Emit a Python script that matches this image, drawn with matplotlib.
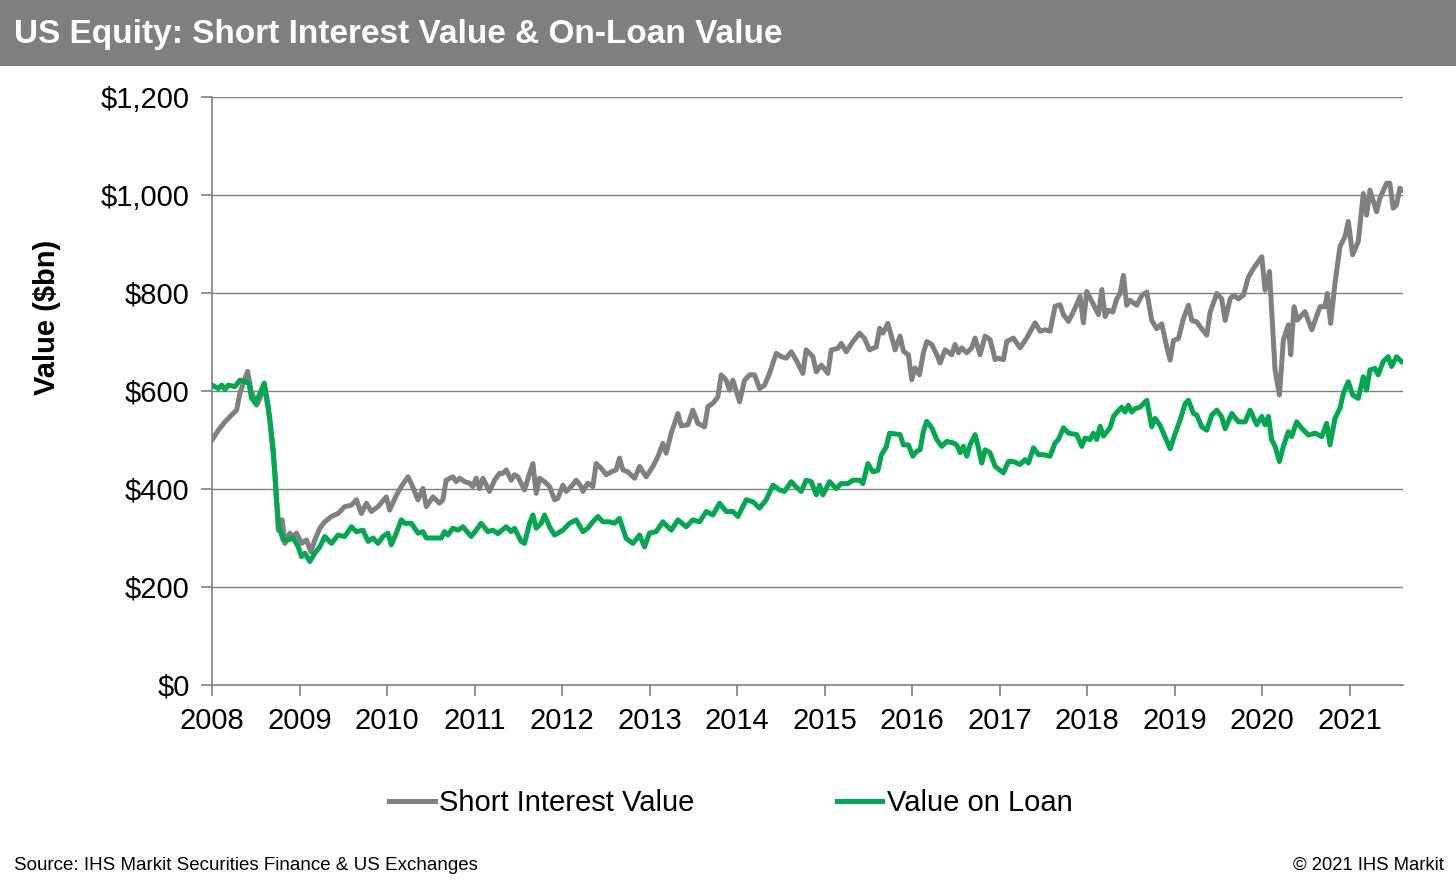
import matplotlib.pyplot as plt
from matplotlib.patches import Rectangle
from matplotlib.ticker import FuncFormatter

# dates as decimal years, values in $bn
si_dates = [2008.000, 2008.072, 2008.148, 2008.224, 2008.281, 2008.319, 2008.357, 2008.407, 2008.445, 2008.510,
            2008.548, 2008.597, 2008.662, 2008.719, 2008.757, 2008.802, 2008.833, 2008.890, 2008.928, 2008.966,
            2009.023, 2009.080, 2009.129, 2009.175, 2009.232, 2009.289, 2009.365, 2009.441, 2009.517, 2009.593,
            2009.650, 2009.707, 2009.764, 2009.821, 2009.897, 2009.992, 2010.030, 2010.106, 2010.163, 2010.240,
            2010.278, 2010.354, 2010.411, 2010.449, 2010.525, 2010.600, 2010.638, 2010.676, 2010.752, 2010.790,
            2010.829, 2010.886, 2010.943, 2010.981, 2011.019, 2011.057, 2011.095, 2011.171, 2011.229, 2011.286,
            2011.324, 2011.362, 2011.419, 2011.457, 2011.495, 2011.571, 2011.629, 2011.667, 2011.705, 2011.743,
            2011.800, 2011.857, 2011.914, 2011.952, 2012.010, 2012.048, 2012.105, 2012.162, 2012.219, 2012.238,
            2012.295, 2012.352, 2012.390, 2012.448, 2012.505, 2012.562, 2012.619, 2012.657, 2012.695, 2012.752,
            2012.829, 2012.886, 2012.962, 2013.038, 2013.095, 2013.152, 2013.190, 2013.248, 2013.324, 2013.362,
            2013.438, 2013.495, 2013.552, 2013.629, 2013.667, 2013.724, 2013.781, 2013.819, 2013.876, 2013.914,
            2013.952, 2014.029, 2014.086, 2014.143, 2014.200, 2014.257, 2014.314, 2014.371, 2014.448, 2014.505,
            2014.562, 2014.619, 2014.676, 2014.752, 2014.790, 2014.867, 2014.905, 2014.962, 2015.038, 2015.076,
            2015.152, 2015.190, 2015.248, 2015.324, 2015.400, 2015.457, 2015.514, 2015.590, 2015.629, 2015.667,
            2015.724, 2015.806, 2015.863, 2015.901, 2015.958, 2015.996, 2016.034, 2016.084, 2016.130, 2016.168,
            2016.225, 2016.282, 2016.320, 2016.377, 2016.453, 2016.491, 2016.530, 2016.568, 2016.625, 2016.682,
            2016.720, 2016.777, 2016.834, 2016.891, 2016.949, 2016.987, 2017.044, 2017.082, 2017.158, 2017.234,
            2017.310, 2017.406, 2017.463, 2017.520, 2017.577, 2017.634, 2017.691, 2017.730, 2017.787, 2017.863,
            2017.920, 2017.958, 2017.996, 2018.053, 2018.130, 2018.168, 2018.206, 2018.244, 2018.293, 2018.339,
            2018.377, 2018.415, 2018.453, 2018.491, 2018.568, 2018.625, 2018.682, 2018.739, 2018.796, 2018.853,
            2018.910, 2018.949, 2018.987, 2019.044, 2019.101, 2019.158, 2019.196, 2019.253, 2019.310, 2019.368,
            2019.406, 2019.482, 2019.539, 2019.577, 2019.634, 2019.672, 2019.730, 2019.787, 2019.844, 2019.901,
            2019.996, 2020.034, 2020.084, 2020.148, 2020.198, 2020.243, 2020.300, 2020.327, 2020.365, 2020.403,
            2020.490, 2020.567, 2020.662, 2020.719, 2020.745, 2020.783, 2020.833, 2020.890, 2020.947, 2020.985,
            2021.034, 2021.099, 2021.156, 2021.194, 2021.232, 2021.308, 2021.346, 2021.422, 2021.460, 2021.498,
            2021.536, 2021.574, 2021.605]
si_values = [500, 520, 537, 551, 561, 595, 616, 640, 602, 571,
             585, 612, 541, 432, 316, 337, 289, 310, 303, 310,
             289, 296, 272, 296, 320, 333, 344, 350, 364, 367,
             378, 350, 371, 354, 364, 384, 357, 387, 405, 425,
             411, 378, 401, 364, 384, 371, 378, 418, 425, 415,
             422, 415, 412, 405, 422, 401, 422, 395, 418, 432,
             432, 439, 418, 429, 425, 398, 432, 452, 391, 422,
             415, 405, 378, 381, 408, 395, 405, 418, 405, 395,
             412, 405, 452, 442, 429, 435, 439, 463, 439, 435,
             422, 446, 425, 446, 466, 493, 473, 514, 554, 529,
             531, 561, 534, 527, 568, 575, 588, 633, 622, 602,
             622, 578, 622, 633, 633, 605, 612, 636, 677, 670,
             667, 680, 663, 636, 684, 670, 639, 653, 636, 684,
             687, 697, 680, 701, 718, 707, 684, 690, 728, 718,
             738, 684, 712, 681, 674, 623, 647, 633, 678, 701,
             695, 674, 657, 684, 674, 695, 678, 688, 678, 688,
             708, 674, 712, 705, 664, 667, 664, 701, 708, 688,
             708, 739, 722, 725, 722, 773, 776, 756, 742, 769,
             793, 739, 803, 783, 756, 807, 752, 765, 761, 788,
             799, 836, 775, 785, 775, 795, 802, 744, 727, 737,
             690, 663, 703, 707, 748, 775, 744, 741, 727, 714,
             761, 799, 788, 744, 788, 795, 788, 796, 833, 850,
             874, 806, 844, 643, 592, 704, 735, 674, 772, 745,
             762, 725, 772, 772, 799, 738, 820, 895, 915, 946,
             878, 905, 1003, 959, 1010, 966, 993, 1024, 1024, 973,
             980, 1014, 1010]

loan_dates = [2008.000, 2008.072, 2008.110, 2008.148, 2008.186, 2008.262, 2008.319, 2008.376, 2008.422, 2008.452,
              2008.498, 2008.548, 2008.597, 2008.643, 2008.700, 2008.738, 2008.764, 2008.814, 2008.871, 2008.928,
              2008.985, 2009.023, 2009.061, 2009.118, 2009.175, 2009.232, 2009.289, 2009.365, 2009.441, 2009.517,
              2009.593, 2009.650, 2009.726, 2009.783, 2009.840, 2009.897, 2009.954, 2010.011, 2010.049, 2010.106,
              2010.163, 2010.202, 2010.278, 2010.354, 2010.411, 2010.449, 2010.525, 2010.620, 2010.657, 2010.695,
              2010.752, 2010.810, 2010.867, 2010.962, 2011.019, 2011.076, 2011.152, 2011.210, 2011.267, 2011.362,
              2011.419, 2011.457, 2011.533, 2011.571, 2011.629, 2011.667, 2011.705, 2011.762, 2011.800, 2011.857,
              2011.914, 2012.010, 2012.086, 2012.162, 2012.238, 2012.295, 2012.352, 2012.410, 2012.467, 2012.543,
              2012.600, 2012.657, 2012.733, 2012.810, 2012.886, 2012.943, 2013.000, 2013.076, 2013.152, 2013.248,
              2013.324, 2013.419, 2013.495, 2013.571, 2013.648, 2013.724, 2013.800, 2013.876, 2013.952, 2014.010,
              2014.105, 2014.181, 2014.257, 2014.333, 2014.410, 2014.486, 2014.543, 2014.619, 2014.676, 2014.733,
              2014.790, 2014.848, 2014.905, 2014.943, 2014.981, 2015.057, 2015.133, 2015.190, 2015.267, 2015.324,
              2015.400, 2015.438, 2015.495, 2015.552, 2015.610, 2015.648, 2015.705, 2015.743, 2015.863, 2015.901,
              2015.958, 2016.008, 2016.053, 2016.091, 2016.130, 2016.168, 2016.225, 2016.282, 2016.339, 2016.396,
              2016.472, 2016.510, 2016.549, 2016.587, 2016.625, 2016.663, 2016.720, 2016.758, 2016.796, 2016.834,
              2016.891, 2016.949, 2017.044, 2017.101, 2017.158, 2017.234, 2017.291, 2017.330, 2017.387, 2017.444,
              2017.501, 2017.577, 2017.634, 2017.672, 2017.730, 2017.787, 2017.882, 2017.939, 2017.977, 2018.034,
              2018.072, 2018.110, 2018.149, 2018.187, 2018.263, 2018.301, 2018.358, 2018.396, 2018.434, 2018.472,
              2018.510, 2018.549, 2018.606, 2018.682, 2018.739, 2018.777, 2018.834, 2018.891, 2018.949, 2019.006,
              2019.063, 2019.120, 2019.158, 2019.215, 2019.253, 2019.310, 2019.368, 2019.425, 2019.482, 2019.539,
              2019.577, 2019.653, 2019.730, 2019.806, 2019.863, 2019.939, 2019.996, 2020.034, 2020.072, 2020.110,
              2020.148, 2020.198, 2020.243, 2020.300, 2020.338, 2020.395, 2020.452, 2020.529, 2020.605, 2020.681,
              2020.738, 2020.776, 2020.833, 2020.890, 2020.928, 2020.985, 2021.034, 2021.099, 2021.156, 2021.194,
              2021.232, 2021.289, 2021.327, 2021.384, 2021.441, 2021.479, 2021.536, 2021.593]
loan_values = [612, 605, 612, 603, 612, 609, 622, 619, 616, 585,
               575, 595, 616, 568, 480, 378, 323, 296, 296, 300,
               282, 262, 269, 252, 269, 282, 303, 289, 306, 303,
               323, 313, 316, 293, 300, 289, 303, 310, 286, 310,
               337, 330, 330, 310, 313, 300, 300, 300, 313, 306,
               320, 316, 323, 303, 316, 330, 313, 316, 309, 323,
               313, 320, 293, 289, 330, 347, 320, 330, 347, 323,
               306, 316, 330, 337, 313, 320, 333, 344, 333, 333,
               330, 340, 299, 289, 306, 282, 310, 313, 333, 316,
               337, 323, 337, 333, 354, 347, 371, 354, 354, 344,
               378, 374, 361, 378, 408, 398, 395, 415, 404, 395,
               418, 415, 388, 408, 388, 415, 401, 411, 411, 418,
               418, 411, 452, 435, 438, 469, 486, 514, 511, 490,
               490, 467, 477, 480, 518, 538, 525, 501, 487, 497,
               494, 490, 474, 487, 467, 490, 511, 484, 453, 480,
               474, 446, 433, 456, 456, 450, 460, 453, 484, 470,
               470, 467, 494, 501, 525, 514, 511, 487, 504, 501,
               514, 501, 528, 508, 525, 548, 560, 567, 557, 571,
               557, 564, 567, 581, 527, 544, 530, 506, 482, 513,
               541, 574, 581, 554, 551, 527, 520, 551, 561, 547,
               523, 554, 537, 537, 561, 531, 548, 531, 548, 500,
               487, 456, 487, 517, 507, 537, 524, 510, 514, 507,
               534, 490, 544, 565, 595, 619, 592, 585, 629, 602,
               643, 646, 633, 660, 670, 650, 670, 660]

year_ticks = list(range(2008, 2022))
value_ticks = [0, 200, 400, 600, 800, 1000, 1200]

plt.rcParams['font.family'] = ['Liberation Sans', 'DejaVu Sans']

grey = '#808080'
green = '#00A84F'

fig = plt.figure(figsize=(14.56, 8.88), dpi=100)

# grey title band
fig.patches.append(Rectangle((0, 1 - 66 / 888), 1, 66 / 888, transform=fig.transFigure,
                             facecolor='#7F7F7F', edgecolor='none', zorder=0))
fig.text(14 / 1456, 1 - 34 / 888, 'US Equity: Short Interest Value & On-Loan Value',
         color='white', fontsize=24, fontweight='bold', va='center', ha='left')

ax = fig.add_axes([212 / 1456, 1 - 685 / 888, (1403 - 212) / 1456, (685 - 97) / 888])
ax.plot(si_dates, si_values, color=grey, lw=3.6, label='Short Interest Value', zorder=3)
ax.plot(loan_dates, loan_values, color=green, lw=3.6, label='Value on Loan', zorder=4)

ax.set_xlim(2008, 2021.61)
ax.set_ylim(0, 1200)
ax.set_xticks(year_ticks)
ax.set_yticks(value_ticks)
ax.yaxis.set_major_formatter(FuncFormatter(lambda v, p: '${:,.0f}'.format(v)))
ax.grid(axis='y', color=grey, lw=1)
ax.set_axisbelow(True)
for side in ['top', 'right']:
    ax.spines[side].set_visible(False)
for side in ['left', 'bottom']:
    ax.spines[side].set_color(grey)
    ax.spines[side].set_linewidth(1.2)
ax.tick_params(axis='both', colors=grey, labelcolor='black', labelsize=21, length=8, width=1.2)
ax.tick_params(axis='x', pad=8)
ax.tick_params(axis='y', pad=8)
ax.set_ylabel('Value ($bn)', fontsize=21, fontweight='bold')
ax.yaxis.set_label_coords(-0.1266, 0.626)

fig.legend(loc='center', bbox_to_anchor=(0.502, 1 - 803 / 888), ncol=2, frameon=False,
           prop={'size': 21}, handlelength=1.55, handletextpad=0.15, columnspacing=4.9)

fig.text(14 / 1456, 1 - 865 / 888, 'Source: IHS Markit Securities Finance & US Exchanges',
         fontsize=13.5, va='center', ha='left')
fig.text(1444 / 1456, 1 - 865 / 888, '\u00a9 2021 IHS Markit',
         fontsize=13.3, va='center', ha='right')

fig.savefig('out.png', dpi=100)
